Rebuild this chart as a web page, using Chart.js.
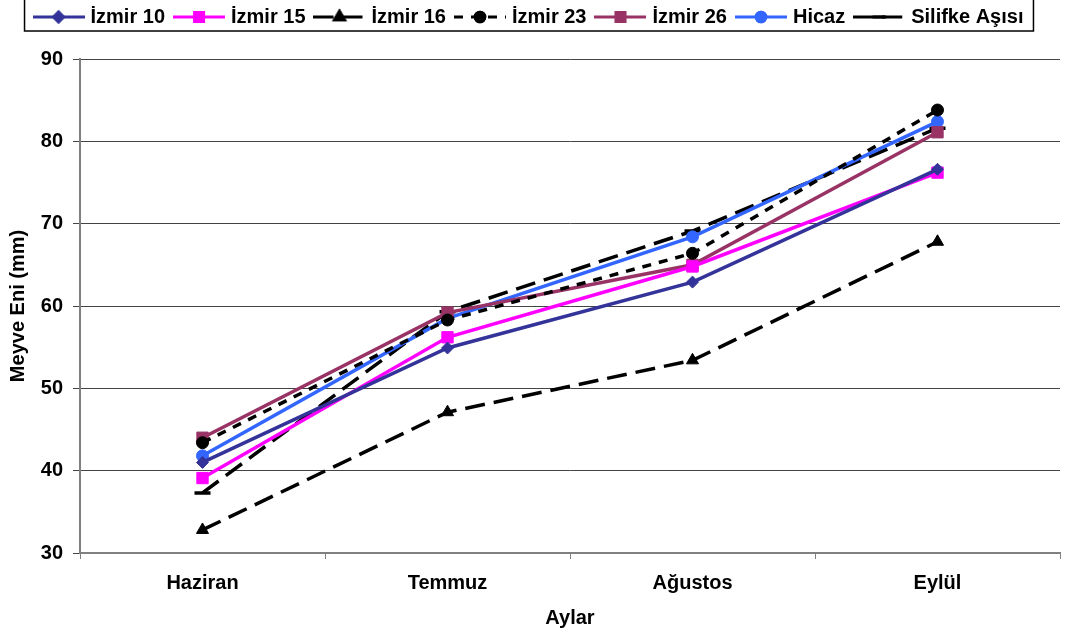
<!DOCTYPE html>
<html>
<head>
<meta charset="utf-8">
<script src="https://cdn.jsdelivr.net/npm/chart.js@4"></script>
<style>
  html, body { margin: 0; padding: 0; background: #fff; }
  #wrap { width: 1065px; height: 635px; }
</style>
</head>
<body>
<div id="wrap"><canvas id="myChart" width="1065" height="635"></canvas></div>
<script>
// Datos
const aylar = ['Haziran', 'Temmuz', 'Ağustos', 'Eylül'];
const izmir10 = [41.0, 54.9, 62.9, 76.6];
const izmir15 = [39.1, 56.2, 64.8, 76.2];
const izmir16 = [32.8, 47.1, 53.4, 67.8];
const izmir23 = [43.4, 58.3, 66.4, 83.8];
const izmir26 = [44.0, 59.2, 65.0, 81.1];
const hicaz = [41.8, 58.5, 68.4, 82.4];
const silifke = [37.3, 59.3, 69.1, 81.6];
const yTicks = [30, 40, 50, 60, 70, 80, 90];

const fuente = 'Liberation Sans, Arial, sans-serif';

// Muestra de leyenda: linea + marcador
function muestra(color, dash, estilo, radio) {
    const c = document.createElement('canvas');
    c.width = 52; c.height = 18;
    const g = c.getContext('2d');
    g.strokeStyle = color;
    g.lineWidth = 3;
    g.setLineDash(dash);
    g.beginPath(); g.moveTo(0, 9); g.lineTo(52, 9); g.stroke();
    g.setLineDash([]);
    Chart.helpers.drawPoint(g, { pointStyle: estilo, radius: radio * 0.8, rotation: 0, borderWidth: 3 }, 26, 9);
    g.fillStyle = color;
    g.strokeStyle = color;
    if (estilo !== 'line') g.fill();
    g.stroke();
    return c;
}

function serie(label, data, color, dash, estilo, radio) {
    return {
        label: label,
        data: data,
        borderColor: color,
        backgroundColor: color,
        borderWidth: 3.5,
        borderDash: dash,
        pointStyle: estilo,
        pointRadius: radio,
        pointHoverRadius: radio,
        pointBorderWidth: estilo === 'line' ? 3.5 : 1,
        tension: 0,
        muestra: muestra(color, dash, estilo, radio)
    };
}

const datasets = [
    serie('İzmir 10', izmir10, '#333399', [], 'rectRot', 6),
    serie('İzmir 15', izmir15, '#FF00FF', [], 'rect', 8),
    serie('İzmir 16', izmir16, '#000000', [20, 9], 'triangle', 7),
    serie('İzmir 23', izmir23, '#000000', [9, 8], 'circle', 6),
    serie('İzmir 26', izmir26, '#993366', [], 'rect', 8),
    serie('Hicaz', hicaz, '#3366FF', [], 'circle', 6),
    serie('Silifke Aşısı', silifke, '#000000', [20, 9], 'line', 8)
];

// Altura fija de la leyenda y marco alrededor
const leyendaFija = {
    id: 'leyendaFija',
    afterInit(chart) {
        const fitOrig = chart.legend.fit;
        chart.legend.fit = function () {
            fitOrig.call(this);
            this.height = 64;
        };
    },
    afterDraw(chart) {
        const cajas = chart.legend.legendHitBoxes;
        if (!cajas || !cajas.length) return;
        let izq = Infinity, der = -Infinity;
        cajas.forEach(b => { izq = Math.min(izq, b.left); der = Math.max(der, b.left + b.width); });
        const ctx = chart.ctx;
        ctx.save();
        ctx.strokeStyle = '#000';
        ctx.lineWidth = 1.5;
        ctx.strokeRect(izq - 12, -2, der - izq + 22, 33);
        ctx.restore();
    }
};

const ctx = document.getElementById('myChart').getContext('2d');

const myChart = new Chart(ctx, {
    type: 'line',
    data: { labels: aylar, datasets: datasets },
    options: {
        responsive: false,
        animation: false,
        layout: { autoPadding: false, padding: { left: 0, right: 5, top: -5, bottom: 0 } },
        plugins: {
            tooltip: { enabled: false },
            legend: {
                position: 'top',
                labels: {
                    usePointStyle: true,
                    pointStyleWidth: 44,
                    padding: 12,
                    color: '#000',
                    font: { family: fuente, size: 20, weight: 'bold' },
                    generateLabels(chart) {
                        return chart.data.datasets.map((ds, i) => ({
                            text: ds.label,
                            pointStyle: ds.muestra,
                            fillStyle: ds.borderColor,
                            strokeStyle: ds.borderColor,
                            lineWidth: 0,
                            hidden: false,
                            datasetIndex: i,
                            fontColor: '#000'
                        }));
                    }
                }
            }
        },
        scales: {
            x: {
                offset: true,
                grid: {
                    display: true,
                    drawOnChartArea: false,
                    offset: true,
                    tickLength: 6,
                    color: '#808080'
                },
                border: { color: '#808080', width: 2 },
                ticks: {
                    color: '#000',
                    padding: 12,
                    font: { family: fuente, size: 20, weight: 'bold' }
                },
                title: {
                    display: true,
                    text: 'Aylar',
                    color: '#000',
                    padding: { top: 4, bottom: 5 },
                    font: { family: fuente, size: 20, weight: 'bold' }
                },
                afterFit(scale) {
                    scale.height = 82;
                    scale.paddingLeft = 0;
                    scale.paddingRight = 0;
                }
            },
            y: {
                min: 30,
                max: 90,
                afterBuildTicks(scale) { scale.ticks = yTicks.map(v => ({ value: v })); },
                grid: {
                    color: '#444',
                    lineWidth: 1,
                    tickLength: 7
                },
                border: { color: '#808080', width: 2 },
                ticks: {
                    color: '#000',
                    padding: 10,
                    font: { family: fuente, size: 20, weight: 'bold' }
                },
                title: {
                    display: true,
                    text: 'Meyve Eni (mm)',
                    color: '#000',
                    padding: { top: 6, bottom: 0 },
                    font: { family: fuente, size: 20, weight: 'bold' }
                },
                afterFit(scale) { scale.width = 80; }
            }
        }
    },
    plugins: [leyendaFija]
});
</script>
</body>
</html>
